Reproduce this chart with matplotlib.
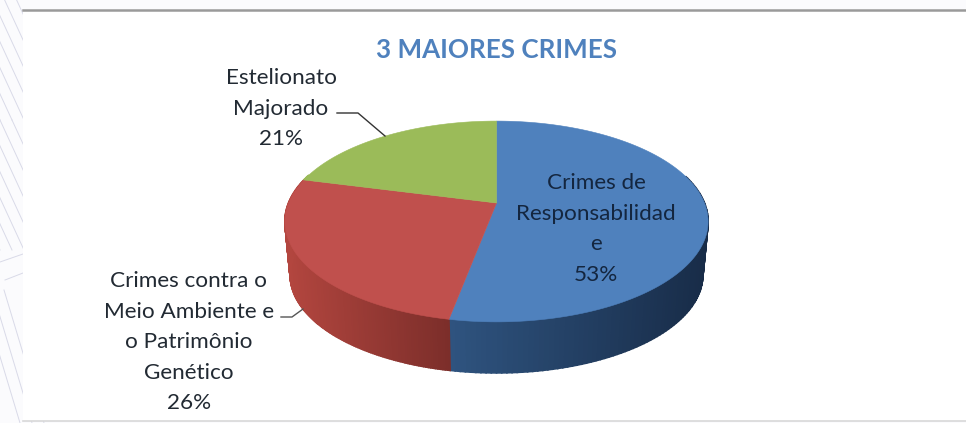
"""Pseudo-3D pie, 3 maiores crimes. Coordinates of the axes are image pixels."""
import numpy as np
import matplotlib
matplotlib.use("Agg")
import matplotlib.pyplot as plt
from matplotlib.colors import to_rgb
from matplotlib.patches import Polygon, Rectangle

TITLE = "3 MAIORES CRIMES"
categories = ["Crimes de\nResponsabilidad\ne", "Crimes contra o\nMeio Ambiente e\no Patrimônio\nGenético",
              "Estelionato\nMajorado"]
shares = [53, 26, 21]
face_colors = ["#4f81bd", "#c0504d", "#9bbb59"]
wall_left = ["#2f5480", "#b3463f", "#9bbb59"]
wall_right = ["#182c48", "#7c2e2a", "#9bbb59"]

CX, CY = 496.5, 203.0   # pivot of the slices
A, S, P = 208.0, 97.0, 0.184   # perspective of the disc
DEPTH, SHRINK = 54.0, 0.975

plt.rcParams["font.family"] = ["Lato", "DejaVu Sans"]


def project(theta, scale=1.0, dy=0.0):
    x, y = np.cos(theta), np.sin(theta)
    d = 1 + P * y
    return CX + scale * A * x / d, CY + dy - scale * S * y / d


fig = plt.figure(figsize=(9.66, 4.23), dpi=100)
ax = fig.add_axes([0, 0, 1, 1])
ax.set_xlim(0, 966); ax.set_ylim(423, 0); ax.axis("off")

# page behind the white panel
ax.add_patch(Rectangle((0, 0), 966, 423, fc="#fbfbfd", ec="none", zorder=0))
for x0 in np.arange(-60, 24, 12):
    for y0 in (-10, 120):
        ax.plot([x0, x0 + 60], [y0, y0 + 130], color="#d9dae8", lw=0.7, zorder=0.5)
ax.plot([0, 23], [262, 254], color="#d9dae8", lw=0.7, zorder=0.5)
ax.plot([5, 23, 23], [280, 273, 273], color="#d9dae8", lw=0.7, zorder=0.5)
for x0 in (-20, -8, 4):
    ax.plot([x0, x0 + 40], [290, 423], color="#d9dae8", lw=0.7, zorder=0.5)
ax.add_patch(Rectangle((23, 11), 943, 410, fc="white", ec="none", zorder=1))
ax.plot([23, 966], [10.5, 10.5], color="#9a9a9a", lw=1.8, zorder=2)
ax.plot([23, 966], [421.5, 421.5], color="#d8d8d8", lw=1.2, zorder=2)

# slice limits, clockwise from twelve o'clock
fracs = np.cumsum([0] + shares) / np.sum(shares)
starts = np.pi / 2 - 2 * np.pi * fracs[:-1]
stops = np.pi / 2 - 2 * np.pi * fracs[1:]

# side wall, built from thin shaded strips
for a0, a1, cl, cr in zip(starts, stops, wall_left, wall_right):
    th = np.linspace(a0, a1, 160)
    xt, yt = project(th)
    xb, yb = project(th, SHRINK, DEPTH)
    front = np.sin(th) < 0.3
    if not front.any():
        continue
    lo, hi = xt[front].min(), xt[front].max()
    cl, cr = np.array(to_rgb(cl)), np.array(to_rgb(cr))
    for i in range(len(th) - 1):
        if not front[i]:
            continue
        t = np.clip((xt[i] - lo) / (hi - lo), 0, 1)
        pts = [(xt[i], yt[i]), (xt[i + 1], yt[i + 1]), (xb[i + 1], yb[i + 1]), (xb[i], yb[i])]
        c = cl + (cr - cl) * t
        ax.add_patch(Polygon(pts, fc=c, ec=c, lw=1.2, zorder=3))

# top face
for a0, a1, col in zip(starts, stops, face_colors):
    th = np.linspace(a0, a1, 200)
    xt, yt = project(th)
    pts = np.column_stack([np.r_[CX, xt], np.r_[CY, yt]])
    ax.add_patch(Polygon(pts, fc=col, ec=col, lw=0.4, zorder=4))

# labels
ink = "#222a33"
ax.text(496, 50, TITLE, color="#4f81bd", fontsize=18.7, fontweight="bold",
        ha="center", va="center", zorder=6)


def stacked(x, y0, text, pct, color=ink):
    for i, line in enumerate((text + "\n" + pct).split("\n")):
        ax.text(x, y0 + i * 30.6, line, color=color, fontsize=16.2, ha="center",
                va="center", zorder=6)


pct = [f"{v}%" for v in shares]
stacked(596, 183, categories[0], pct[0], "#14263f")
stacked(189, 281, categories[1], pct[1])
stacked(281, 78, categories[2], pct[2])

# leader lines
ax.plot([337, 358, 385], [113, 113, 136], color="#333333", lw=1.0, zorder=6)
ax.plot([281, 292, 303], [317, 317, 309], color="#555555", lw=1.0, zorder=6)

fig.savefig("out.png", dpi=100)
